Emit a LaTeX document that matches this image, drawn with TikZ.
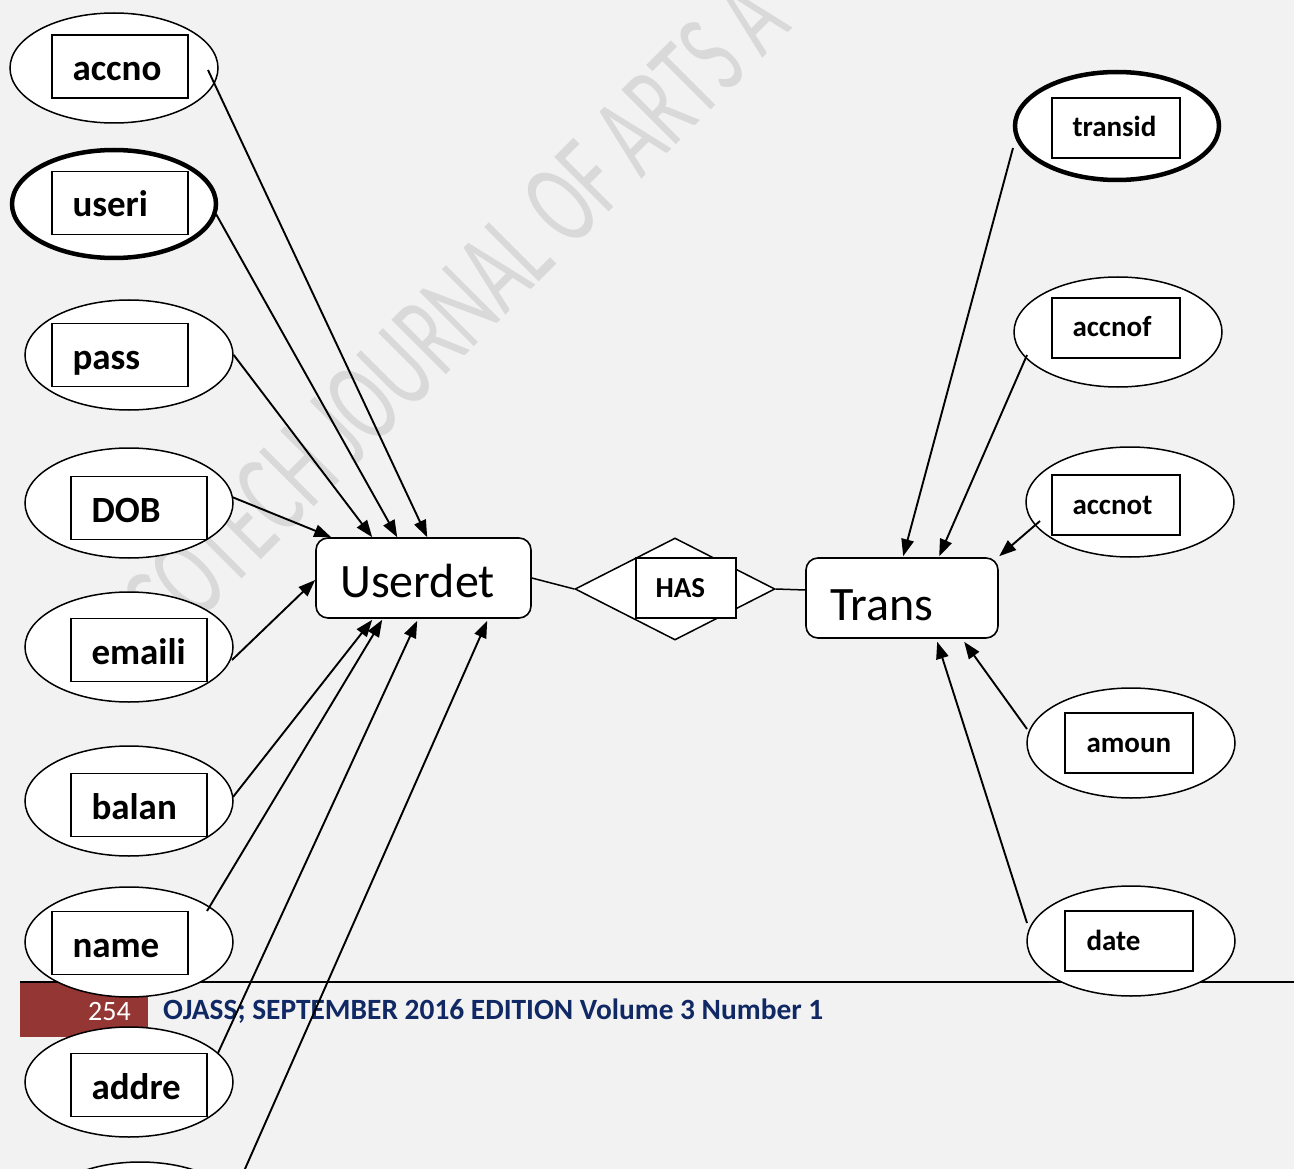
\documentclass[tikz,border=0pt]{standalone}
\usepackage{fontspec}
\setmainfont{Carlito}
\usetikzlibrary{arrows.meta,shapes.geometric,calc}
\definecolor{bg}{RGB}{242,242,242}
\definecolor{wm}{RGB}{217,217,217}
\definecolor{foot}{RGB}{148,54,52}
\definecolor{navy}{RGB}{16,40,100}
\begin{document}
\begin{tikzpicture}[x=1pt,y=-1pt,
  attr/.style={ellipse, draw, fill=white, line width=1.5pt, minimum width=208pt, minimum height=110pt, inner sep=0pt},
  keyattr/.style={attr, line width=4.5pt, minimum width=204pt, minimum height=108pt},
  lbox/.style={draw, fill=white, line width=1.4pt, inner sep=0pt},
  lbig/.style={lbox, minimum width=136pt, minimum height=63pt},
  lsmall/.style={lbox, minimum width=128pt, minimum height=60pt},
  lname/.style={font=\bfseries\fontsize{37}{40}\selectfont, anchor=base west, inner sep=0pt},
  rname/.style={font=\bfseries\fontsize{29}{32}\selectfont, anchor=base west, inner sep=0pt},
  entity/.style={draw, fill=white, rounded corners=12pt, line width=1.6pt, inner sep=0pt},
  ename/.style={font=\fontsize{48}{52}\selectfont, anchor=base west, inner sep=0pt},
  conn/.style={line width=1.9pt, -{Triangle[length=17pt,width=12.5pt]}},
  link/.style={line width=1.5pt}]
\useasboundingbox (0,0) rectangle (1294,1169);
\clip (0,0) rectangle (1294,1169);
\fill[bg] (0,0) rectangle (1294,1169);
% watermark
\node[anchor=base west, inner sep=0pt, rotate=45, text=wm, font=\fontsize{120}{120}\selectfont] (wmark) at (170,651)
  {\scalebox{0.625}[1]{COTECH JOURNAL OF ARTS A}};
% footer
\coordinate (fl) at (20,982);
\coordinate (fr) at (1294,982);
\draw[line width=2pt] (fl) -- (fr);
\node[fill=foot, minimum width=128pt, minimum height=54pt, inner sep=0pt] (pagebox) at (84,1010) {};
\node[anchor=base east, inner sep=0pt, text=white, font=\fontsize{28}{30}\selectfont] (pagenum) at (131,1020) {254};
\node[anchor=base west, inner sep=0pt, text=navy, font=\bfseries\fontsize{29.4}{32}\selectfont] (foottext) at (163,1019) {OJASS; SEPTEMBER 2016 EDITION Volume 3 Number 1};
% left attributes
\node[attr] (accno) at (114,68) {};
\node[lbig] (accnoR) at (120,66.5) {};
\node[lname] (accnoT) at ($(accnoR.west)+(21,14)$) {accno};
\node[keyattr] (useri) at (114,204) {};
\node[lbig] (useriR) at (120,203) {};
\node[lname] (useriT) at ($(useriR.west)+(21,14)$) {useri};
\node[attr] (pass) at (129,355) {};
\node[lbig] (passR) at (120,355) {};
\node[lname] (passT) at ($(passR.west)+(21,14)$) {pass};
\node[attr] (dob) at (129,503) {};
\node[lbig] (dobR) at (139,508) {};
\node[lname] (dobT) at ($(dobR.west)+(21,14)$) {DOB};
\node[attr] (emaili) at (129,647) {};
\node[lbig] (emailiR) at (139,650) {};
\node[lname] (emailiT) at ($(emailiR.west)+(21,14)$) {emaili};
\node[attr] (balan) at (129,801) {};
\node[lbig] (balanR) at (139,805) {};
\node[lname] (balanT) at ($(balanR.west)+(21,14)$) {balan};
\node[attr] (name) at (129,942) {};
\node[lbig] (nameR) at (120,943) {};
\node[lname] (nameT) at ($(nameR.west)+(21,14)$) {name};
\node[attr] (addre) at (129,1082) {};
\node[lbig] (addreR) at (139,1085) {};
\node[lname] (addreT) at ($(addreR.west)+(21,14)$) {addre};
\node[attr] (extra) at (140,1217) {};
% right attributes
\node[keyattr] (transid) at (1117,126) {};
\node[lsmall] (transidR) at (1116,128) {};
\node[rname] (transidT) at ($(transidR.west)+(21,9)$) {transid};
\node[attr] (accnof) at (1118,332) {};
\node[lsmall] (accnofR) at (1116,328) {};
\node[rname] (accnofT) at ($(accnofR.west)+(21,9)$) {accnof};
\node[attr] (accnot) at (1130,502) {};
\node[lsmall] (accnotR) at (1116,505) {};
\node[rname] (accnotT) at ($(accnotR.west)+(21,9)$) {accnot};
\node[attr] (amoun) at (1131,743) {};
\node[lsmall] (amounR) at (1129,743) {};
\node[rname] (amounT) at ($(amounR.west)+(22,9)$) {amoun};
\node[attr] (date) at (1131,941) {};
\node[lsmall] (dateR) at (1129,941) {};
\node[rname] (dateT) at ($(dateR.west)+(22,9)$) {date};
% entities and relationship
\node[entity, minimum width=215pt, minimum height=80pt] (userdet) at (423.5,578) {};
\node[ename] (userdetT) at (340,597) {Userdet};
\node[entity, minimum width=192pt, minimum height=80pt] (trans) at (902,598) {};
\node[ename] (transT) at (830,620) {Trans};
\node[diamond, draw, fill=white, line width=1.5pt, minimum width=200pt, minimum height=102pt, inner sep=0pt] (has) at (675,589) {};
\node[lsmall, minimum width=100pt] (hasR) at (686,588) {};
\node[rname] (hasT) at ($(hasR.west)+(20,9)$) {HAS};
\draw[link] (userdet.east) -- (has.west);
\draw[link] (has.east) -- ($(trans.west)+(0,-8)$);
% connectors to Userdet
\draw[conn] ($(accno.center)+(94,2)$) -- ($(userdet.north west)+(112,0)$);
\draw[conn] ($(useri.center)+(102,10)$) -- ($(userdet.north west)+(82,0)$);
\draw[conn] (pass.east) -- ($(userdet.north west)+(57,0)$);
\draw[conn] ($(dob.center)+(103,-6)$) -- ($(userdet.north west)+(16,0)$);
\draw[conn] ($(emaili.center)+(103,13)$) -- ($(userdet.west)+(0,2)$);
\draw[conn] ($(balan.center)+(104,-4)$) -- ($(userdet.south west)+(57,1)$);
\draw[conn] ($(name.center)+(78,-31)$) -- ($(userdet.south west)+(67,1)$);
\draw[conn] ($(addre.center)+(89,-29)$) -- ($(userdet.south west)+(102,2)$);
\draw[conn] ($(extra.center)+(97,-30)$) -- ($(userdet.south west)+(172,2)$);
% connectors to Trans
\draw[conn] ($(transid.center)+(-104,22)$) -- ($(trans.north west)+(98,-1)$);
\draw[conn] ($(accnof.center)+(-91,23)$) -- ($(trans.north west)+(134,-1)$);
\draw[conn] ($(accnot.center)+(-90,19)$) -- ($(trans.north west)+(194,-1)$);
\draw[conn] ($(amoun.center)+(-104,-14)$) -- ($(trans.south west)+(159,3)$);
\draw[conn] ($(date.center)+(-104,-18)$) -- ($(trans.south west)+(132,3)$);
\end{tikzpicture}
\end{document}
